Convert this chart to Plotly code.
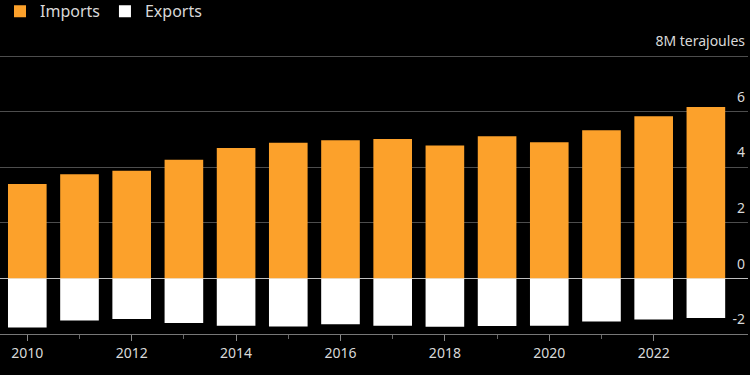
import plotly.graph_objects as go

years = list(range(2010, 2024))
imports = [3.40, 3.75, 3.87, 4.27, 4.69, 4.88, 4.97, 5.02, 4.78, 5.11, 4.90, 5.33, 5.83, 6.17]
exports = [-1.77, -1.51, -1.46, -1.60, -1.70, -1.73, -1.65, -1.70, -1.74, -1.71, -1.70, -1.55, -1.48, -1.42]
y_ticks = [-2, 0, 2, 4, 6, 8]
y_ticktext = ["-2", "0", "2", "4", "6", "8M terajoules"]

ORANGE = "#fca12b"
TXT = "#d9d9d9"
GRID = "#4d4d4d"
FONT = "Noto Sans, Open Sans, sans-serif"

fig = go.Figure()
fig.add_trace(go.Bar(x=years, y=imports, name="Imports", marker=dict(color=ORANGE, line=dict(width=0))))
fig.add_trace(go.Bar(x=years, y=exports, name="Exports", marker=dict(color="#ffffff", line=dict(width=0))))

fig.update_layout(
    width=750, height=375,
    paper_bgcolor="#000000", plot_bgcolor="#000000",
    barmode="relative", bargap=0.26,
    margin=dict(l=0, r=2, t=19, b=41),
    font=dict(family=FONT, size=14, color=TXT),
    showlegend=True,
    legend=dict(orientation="h", x=0, y=0.97, xref="container", yref="container",
                xanchor="left", yanchor="middle", bgcolor="rgba(0,0,0,0)",
                font=dict(size=16, color=TXT), itemwidth=30, traceorder="normal"),
    xaxis=dict(range=[2009.477, 2023.807], tickmode="linear", tick0=2010, dtick=2,
               ticks="outside", ticklen=6, tickcolor="#888", showgrid=False,
               showline=True, linecolor="#777", linewidth=1,
               tickfont=dict(size=14, color=TXT),
               minor=dict(ticks="outside", ticklen=4, tickcolor="#666", dtick=1, tick0=2011, showgrid=False),
               fixedrange=True),
    yaxis=dict(range=[-2, 9], side="right", tickmode="array", tickvals=y_ticks,
               ticktext=y_ticktext, ticklabelposition="inside top", ticklabelshift=-5,
               showgrid=True, gridcolor=GRID, gridwidth=1,
               zeroline=True, zerolinecolor="#bfbfbf", zerolinewidth=1,
               tickfont=dict(size=14, color=TXT), ticks="", fixedrange=True),
)
fig.write_html("out.html", config={"displayModeBar": False},
               post_script="document.body.style.margin='0';document.body.style.background='#000';")
